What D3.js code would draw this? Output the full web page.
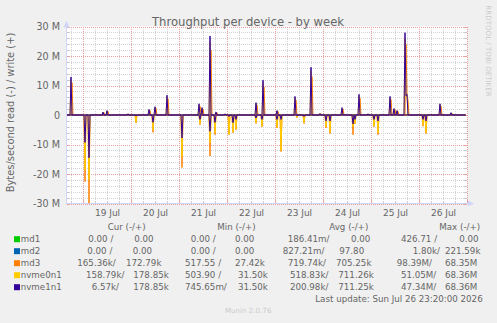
<!DOCTYPE html>
<html>
<head>
<meta charset="utf-8">
<script src="https://cdn.jsdelivr.net/npm/d3@7"></script>
<style>
  body { margin: 0; background: #f0f0f0; }
  svg { display: block; font-family: "DejaVu Sans", sans-serif; }
  text { fill: #666; }
</style>
</head>
<body>
<div id="chart"></div>
<script>
// devices in draw order
var devices = ["md1", "md2", "md3", "nvme0n1", "nvme1n1"];
var colors = ["#00cc00", "#0066b3", "#ff8000", "#ffcc00", "#330099"];

// spikes: hours after 19 Jul 00:00, values in MB/s (write +, read -)
var writeHours = [-6, 10, 12, 22.5, 33, 36, 42, 58, 59.5, 63.5, 66.5, 71, 86.5, 90, 97, 106, 114, 118.5, 129.5, 138, 142.5, 153.5, 155.5, 157, 161, 161.5, 162, 178.5, 184];
var writeNvme1 = [12.9, 1.0, 1.5, 0.4, 1.9, 2.8, 6.7, 3.8, 2.5, 26.8, 1.0, 0.4, 4.2, 11.8, 1.5, 6.3, 16.2, 0.5, 2.5, 7.0, 0.4, 6.3, 2.2, 1.5, 27.9, 6.5, 7.0, 3.8, 0.8];
var writeNvme0 = [12.0, 0.9, 1.4, 0.4, 1.7, 2.6, 6.2, 3.5, 2.3, 24.8, 0.9, 0.4, 3.9, 11.0, 1.4, 5.9, 15.0, 0.5, 2.3, 6.5, 0.4, 5.9, 2.0, 1.4, 26.0, 6.0, 6.5, 3.5, 0.7];
// md3 writes show up half an hour later (brown edge right of the purple)
var writeHoursMd3 = [-5.5, 10.5, 12.5, 23, 33.5, 36.5, 42.5, 58.5, 60, 64, 67, 71.5, 87, 90.5, 97.5, 106.5, 114.5, 119, 130, 138.5, 143, 154, 156, 157.5, 161.5, 162, 162.5, 179, 184.5];
var writeMd3 = [11.0, 0.8, 1.2, 0.3, 1.5, 2.3, 5.5, 3.0, 2.0, 22.0, 0.8, 0.3, 3.4, 9.5, 1.2, 5.0, 13.0, 0.4, 2.0, 5.8, 0.3, 5.2, 1.8, 1.2, 24.0, 7.0, 5.0, 3.0, 0.6];

var readHours = [1, 3, 26.5, 35, 49.5, 58.5, 63.5, 66, 73, 75, 76.5, 86.5, 89.5, 97, 99, 107, 110.5, 121.5, 123.5, 135, 136, 145.5, 147.5, 170, 171.5];
var readMd3 = [-22.6, -29.9, -2.7, -5.9, -17.8, -3.3, -13.9, -6.7, -6.7, -6.0, -5.0, -2.9, -4.0, -4.4, -12.4, -0.9, -2.9, -4.4, -6.3, -6.7, -3.0, -4.0, -6.7, -3.8, -6.3];
var readNvme0 = [-18.7, -22.0, -2.5, -5.0, -14.1, -3.0, -9.4, -6.0, -6.7, -5.8, -4.8, -2.7, -3.8, -4.2, -12.0, -0.8, -2.7, -4.0, -5.8, -4.0, -2.8, -3.8, -6.0, -3.5, -6.0];
var readNvme1 = [-9.3, -14.5, -0.3, -2.5, -7.8, -1.5, -5.5, -2.5, -0.5, -2.6, -1.5, -1.0, -1.5, -1.5, -1.5, -0.1, -0.5, -2.0, -2.0, -3.0, -1.5, -1.5, -2.0, -1.5, -2.0];

// legend table
var legendCols = ["Cur (-/+)", "Min (-/+)", "Avg (-/+)", "Max (-/+)"];
var curRead = ["0.00 /", "0.00 /", "165.36k/", "158.79k/", "6.57k/"];
var curWrite = ["0.00", "0.00", "172.79k", "178.85k", "178.85k"];
var minRead = ["0.00 /", "0.00 /", "517.55 /", "503.90 /", "745.65m/"];
var minWrite = ["0.00", "0.00", "27.42k", "31.50k", "31.50k"];
var avgRead = ["186.41m/", "827.21m/", "719.74k/", "518.83k/", "200.98k/"];
var avgWrite = ["0.00", "97.80", "705.25k", "711.26k", "711.25k"];
var maxRead = ["426.71 /", "1.80k/", "98.39M/", "51.05M/", "47.34M/"];
var maxWrite = ["0.00", "221.59k", "68.35M", "68.36M", "68.36M"];
var yTickValues = [-30e6, -20e6, -10e6, 0, 10e6, 20e6, 30e6];

var width = 497;
var height = 323;
var base = Date.UTC(2026, 6, 19);
var start = Date.UTC(2026, 6, 18, 16);
var end = Date.UTC(2026, 6, 27);
var lastHour = 191.33; // last update 26 Jul 23:20

var svg = d3.select('#chart')
    .append('svg')
    .attr('width', width)
    .attr('height', height)
    .style('background', '#f0f0f0');

var x = d3.scaleUtc().domain([start, end]).range([67, 467]);
var y = d3.scaleLinear().domain([-30e6, 30e6]).range([203.5, 26.5]);

// canvas
svg.append('rect')
    .attr('x', 67).attr('y', 26.5)
    .attr('width', 400).attr('height', 177)
    .attr('fill', '#fff');

// grid, minor then major
var minorV = d3.utcHour.every(6).range(new Date(start), new Date(end + 1));
var majorV = d3.utcDay.range(new Date(start), new Date(end + 1));
var minorH = d3.range(-30e6, 30e6 + 1, 2e6);

var grid = svg.append('g').attr('shape-rendering', 'crispEdges');
grid.selectAll('.minv')
    .data(minorV.filter(function (d) { return d.getUTCHours() !== 0; }))
    .enter().append('line')
    .attr('x1', function (d) { return Math.round(x(d)) + 0.5; })
    .attr('x2', function (d) { return Math.round(x(d)) + 0.5; })
    .attr('y1', 27).attr('y2', 203)
    .attr('stroke', '#d4d4d4').attr('stroke-dasharray', '1,1');
grid.selectAll('.minh')
    .data(minorH.filter(function (d) { return d % 10e6 !== 0; }))
    .enter().append('line')
    .attr('x1', 67).attr('x2', 467)
    .attr('y1', function (d) { return Math.round(y(d)) + 0.5; })
    .attr('y2', function (d) { return Math.round(y(d)) + 0.5; })
    .attr('stroke', '#d4d4d4').attr('stroke-dasharray', '1,1');
grid.selectAll('.majv')
    .data(majorV)
    .enter().append('line')
    .attr('x1', function (d) { return Math.round(x(d)) + 0.5; })
    .attr('x2', function (d) { return Math.round(x(d)) + 0.5; })
    .attr('y1', 27).attr('y2', 203)
    .attr('stroke', '#e8a0a0').attr('stroke-dasharray', '1,1');
grid.selectAll('.majh')
    .data(yTickValues)
    .enter().append('line')
    .attr('x1', 67).attr('x2', 467)
    .attr('y1', function (d) { return Math.round(y(d)) + 0.5; })
    .attr('y2', function (d) { return Math.round(y(d)) + 0.5; })
    .attr('stroke', '#e8a0a0').attr('stroke-dasharray', '1,1');

// little solid ticks on the canvas edges
grid.selectAll('.tickb')
    .data(minorV)
    .enter().append('line')
    .attr('x1', function (d) { return Math.round(x(d)) + 0.5; })
    .attr('x2', function (d) { return Math.round(x(d)) + 0.5; })
    .attr('y1', function (d) { return d.getUTCHours() === 0 ? 200 : 201; })
    .attr('y2', 203)
    .attr('stroke', function (d) { return d.getUTCHours() === 0 ? '#e8a0a0' : '#c8c8c8'; });
grid.selectAll('.tickl')
    .data(minorH)
    .enter().append('line')
    .attr('x1', 67)
    .attr('x2', function (d) { return d % 10e6 === 0 ? 70 : 69; })
    .attr('y1', function (d) { return Math.round(y(d)) + 0.5; })
    .attr('y2', function (d) { return Math.round(y(d)) + 0.5; })
    .attr('stroke', function (d) { return d % 10e6 === 0 ? '#e8a0a0' : '#c8c8c8'; });
grid.selectAll('.tickr')
    .data(minorH)
    .enter().append('line')
    .attr('x1', 464)
    .attr('x2', 467)
    .attr('y1', function (d) { return Math.round(y(d)) + 0.5; })
    .attr('y2', function (d) { return Math.round(y(d)) + 0.5; })
    .attr('stroke', function (d) { return d % 10e6 === 0 ? '#e8a0a0' : '#c8c8c8'; });

// axis lines with arrows
svg.append('line').attr('x1', 66.5).attr('x2', 66.5).attr('y1', 204).attr('y2', 24)
    .attr('stroke', '#cfd6f8');
svg.append('line').attr('x1', 66).attr('x2', 470).attr('y1', 203.5).attr('y2', 203.5)
    .attr('stroke', '#cfd6f8');
svg.append('path').attr('d', 'M63.5,27.5 L69.5,27.5 L66.5,20.5 Z').attr('fill', '#cfd6f8');
svg.append('path').attr('d', 'M468,200.5 L468,206.5 L474,203.5 Z').attr('fill', '#cfd6f8');

// spikes -> line points
function spikePoints(hours, vals) {
    var pts = [[-8, 0], [lastHour, 0]];
    hours.forEach(function (h, i) {
        pts.push([h, vals[i]]);
        [h - 0.5, h + 0.5].forEach(function (n) {
            var taken = hours.some(function (o) { return Math.abs(o - n) < 0.26; });
            if (!taken) pts.push([n, 0]);
        });
    });
    pts.sort(function (a, b) { return a[0] - b[0]; });
    return pts;
}

var series = [
    { write: spikePoints([], []), read: spikePoints([], []) },
    { write: spikePoints([], []), read: spikePoints([], []) },
    { write: spikePoints(writeHoursMd3, writeMd3), read: spikePoints(readHours, readMd3) },
    { write: spikePoints(writeHours, writeNvme0), read: spikePoints(readHours, readNvme0) },
    { write: spikePoints(writeHours, writeNvme1), read: spikePoints(readHours, readNvme1) }
];

var line = d3.line()
    .x(function (d) { return x(base + d[0] * 3600e3); })
    .y(function (d) { return y(d[1] * 1e6); });

var lines = svg.append('g');
series.forEach(function (s, i) {
    lines.append('path').datum(s.read)
        .attr('d', line).attr('fill', 'none')
        .attr('stroke', colors[i]).attr('stroke-width', 1);
    lines.append('path').datum(s.write)
        .attr('d', line).attr('fill', 'none')
        .attr('stroke', colors[i]).attr('stroke-width', 1);
});

// y axis labels
var yAxis = svg.append('g')
    .attr('transform', 'translate(62,0)')
    .call(d3.axisLeft(y).tickValues(yTickValues).tickSize(0)
        .tickFormat(function (d) { return d === 0 ? '0' : (d / 1e6) + ' M'; }));
yAxis.select('.domain').remove();
yAxis.selectAll('text')
    .attr('x', -2)
    .style('font-family', 'DejaVu Sans').style('font-size', '9.6px').style('fill', '#666');

// x axis labels at noon
var noons = d3.utcDay.range(new Date(Date.UTC(2026, 6, 19)), new Date(end))
    .map(function (d) { return new Date(+d + 12 * 3600e3); });
var xAxis = svg.append('g')
    .attr('transform', 'translate(0,206)')
    .call(d3.axisBottom(x).tickValues(noons).tickSize(0).tickFormat(d3.utcFormat('%d %b')));
xAxis.select('.domain').remove();
xAxis.selectAll('text')
    .attr('y', 4)
    .style('font-family', 'DejaVu Sans').style('font-size', '9px').style('fill', '#666');

// titles
svg.append('text')
    .attr('x', 248).attr('y', 26)
    .attr('text-anchor', 'middle')
    .style('font-size', '11.6px')
    .text('Throughput per device - by week');
svg.append('text')
    .attr('transform', 'translate(13.5,112.5) rotate(-90)')
    .attr('text-anchor', 'middle')
    .style('font-size', '9.9px')
    .text('Bytes/second read (-) / write (+)');
svg.append('text')
    .attr('transform', 'translate(485.5,51) rotate(90)')
    .attr('text-anchor', 'middle')
    .style('font-size', '7.1px').style('fill', '#ccc')
    .text('RRDTOOL / TOBI OETIKER');

// legend
var rowY = [242.4, 254.4, 266.4, 278.4, 290.4];
var headX = [107.7, 217.3, 329.3, 439.3];
var cellX = [
    [88.3, 134.3, 190.7, 235, 287.7, 351, 401, 459.3],
    [87.3, 132.7, 190.7, 235, 282.7, 339.3, 412.7, 445],
    [77.3, 126, 185, 235, 287.7, 336, 396.7, 445],
    [86, 133.3, 185, 238, 290, 338.3, 401, 445],
    [91.7, 133.3, 185, 238, 290, 338.3, 401, 445]
];
var legendFont = '8.7px';
var legend = svg.append('g').style('font-size', legendFont);

legend.selectAll('.head')
    .data(legendCols).enter().append('text')
    .attr('x', function (d, i) { return headX[i]; })
    .attr('y', 230.2)
    .text(function (d) { return d; });

devices.forEach(function (name, r) {
    legend.append('rect')
        .attr('x', 14).attr('y', rowY[r] - 6.2)
        .attr('width', 6).attr('height', 6)
        .attr('fill', colors[r]);
    legend.append('text').attr('x', 20.7).attr('y', rowY[r]).text(name);
    var cells = [curRead[r], curWrite[r], minRead[r], minWrite[r],
        avgRead[r], avgWrite[r], maxRead[r], maxWrite[r]];
    cells.forEach(function (c, j) {
        legend.append('text')
            .attr('x', cellX[r][j]).attr('y', rowY[r])
            .style('white-space', 'pre')
            .text(c);
    });
});

legend.append('text')
    .attr('x', 482.7).attr('y', 302.3)
    .attr('text-anchor', 'end')
    .text('Last update: Sun Jul 26 23:20:00 2026');
svg.append('text')
    .attr('x', 225).attr('y', 312.6)
    .style('font-size', '7.1px').style('fill', '#ccc')
    .text('Munin 2.0.76');
</script>
</body>
</html>
